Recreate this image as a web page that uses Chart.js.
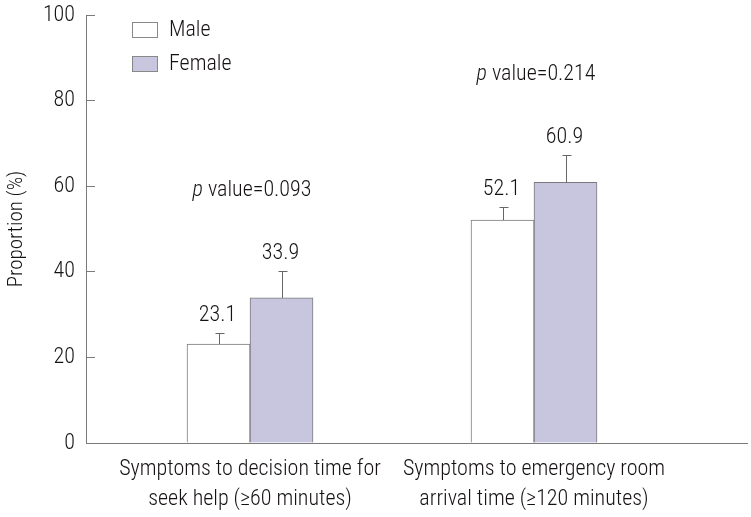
<!DOCTYPE html>
<html>
<head>
<meta charset="utf-8">
<script src="https://cdn.jsdelivr.net/npm/chart.js@4"></script>
<style>
    html, body { margin: 0; padding: 0; background: #fff; }
    #wrap { width: 751px; height: 517px; position: relative; }
</style>
</head>
<body>
<div id="wrap"><canvas id="chart"></canvas></div>
<script>
// Values.
const categories = [
    ['Symptoms to decision time for', 'seek help (\u226560 minutes)'],
    ['Symptoms to emergency room', 'arrival time (\u2265120 minutes)'],
];
const seriesNames = ['Male', 'Female'];
const maleValues = [23.1, 52.1];
const femaleValues = [33.9, 60.9];
const maleErrors = [2.5, 3.0];
const femaleErrors = [6.3, 6.3];
const pValues = ['0.093', '0.214'];
const yTicks = [0, 20, 40, 60, 80, 100];

const FONT = '"Roboto Condensed", "DejaVu Sans Condensed", sans-serif';
const WEIGHT = 300;
const TEXT = '#161213';
const LINE = '#7a7a7a';
const FEMALE_FILL = '#c8c6df';

const toPoints = vals => vals.map((v, i) => ({ x: i, y: v }));
const font = (size, style) => (style ? style + ' ' : '') + WEIGHT + ' ' + size + 'px ' + FONT;

// Error bar whiskers + value labels above them.
const errorBars = {
    id: 'errorBars',
    afterDatasetsDraw(chart) {
        const { ctx, scales: { y } } = chart;
        ctx.save();
        chart.data.datasets.forEach((ds, di) => {
            chart.getDatasetMeta(di).data.forEach((bar, i) => {
                const v = ds.data[i].y;
                const top = y.getPixelForValue(v + ds.errors[i]);
                const x = Math.round(bar.x) + 0.5;
                const capY = Math.round(top) + 0.5;
                ctx.strokeStyle = '#666';
                ctx.lineWidth = 1;
                ctx.beginPath();
                ctx.moveTo(x, bar.y);
                ctx.lineTo(x, capY);
                ctx.moveTo(x - 4, capY);
                ctx.lineTo(x + 5, capY);
                ctx.stroke();
                ctx.fillStyle = TEXT;
                ctx.font = font(22);
                ctx.textAlign = 'center';
                ctx.textBaseline = 'alphabetic';
                ctx.fillText(v.toFixed(1), bar.x - 1, top - 12);
            });
        });
        ctx.restore();
    },
};

// "p value=..." above each group, a fixed step above the tallest whisker.
const pLabels = {
    id: 'pLabels',
    afterDatasetsDraw(chart) {
        const { ctx, scales: { x, y } } = chart;
        const sets = chart.data.datasets;
        ctx.save();
        ctx.fillStyle = TEXT;
        ctx.textBaseline = 'alphabetic';
        ctx.textAlign = 'left';
        pValues.forEach((p, i) => {
            const maxTop = Math.max(...sets.map(ds => ds.data[i].y + ds.errors[i]));
            const py = y.getPixelForValue(maxTop) - 75;
            const cx = x.getPixelForValue(i) + 2;
            ctx.font = font(22, 'italic');
            const wp = ctx.measureText('p').width;
            ctx.font = font(22);
            const rest = ' value=' + p;
            const wr = ctx.measureText(rest).width;
            const start = cx - (wp + wr) / 2;
            ctx.font = font(22, 'italic');
            ctx.fillText('p', start, py);
            ctx.font = font(22);
            ctx.fillText(rest, start + wp, py);
        });
        ctx.restore();
    },
};

// Stacked legend inside the plot, top-left.
const boxLegend = {
    id: 'boxLegend',
    afterDraw(chart) {
        const { ctx, chartArea } = chart;
        ctx.save();
        ctx.font = font(22);
        ctx.textBaseline = 'middle';
        ctx.textAlign = 'left';
        chart.data.datasets.forEach((ds, i) => {
            const bx = chartArea.left + 46.5;
            const by = chartArea.top + 7.5 + i * 34;
            ctx.fillStyle = ds.backgroundColor;
            ctx.fillRect(bx, by, 25, 15);
            ctx.strokeStyle = '#888';
            ctx.lineWidth = 1;
            ctx.strokeRect(bx, by, 25, 15);
            ctx.fillStyle = TEXT;
            ctx.fillText(ds.label, chartArea.left + 83, by + 8);
        });
        ctx.restore();
    },
};

new Chart(document.getElementById('chart'), {
    type: 'bar',
    data: {
        datasets: [
            {
                label: seriesNames[0],
                data: toPoints(maleValues),
                errors: maleErrors,
                backgroundColor: '#ffffff',
                borderColor: LINE,
                borderWidth: 1,
            },
            {
                label: seriesNames[1],
                data: toPoints(femaleValues),
                errors: femaleErrors,
                backgroundColor: FEMALE_FILL,
                borderColor: LINE,
                borderWidth: 1,
            },
        ],
    },
    options: {
        responsive: true,
        maintainAspectRatio: false,
        animation: false,
        barThickness: 63,
        layout: { padding: { top: 15, right: 4, left: 0, bottom: 0 } },
        plugins: {
            legend: { display: false },
            tooltip: { enabled: false },
        },
        scales: {
            x: {
                type: 'linear',
                offset: false,
                min: -0.5775,
                max: 1.75,
                afterBuildTicks: s => { s.ticks = categories.map((c, i) => ({ value: i })); },
                afterFit: s => { s.height = 74; s.paddingLeft = 0; s.paddingRight = 0; },
                ticks: {
                    autoSkip: false,
                    maxRotation: 0,
                    padding: 12,
                    color: TEXT,
                    font: { family: FONT, size: 22, weight: WEIGHT, lineHeight: 1.34 },
                    callback: v => categories[v],
                },
                grid: { drawOnChartArea: false, drawTicks: false },
                border: { color: LINE, width: 1 },
            },
            y: {
                min: 0,
                max: 100,
                afterBuildTicks: s => { s.ticks = yTicks.map(v => ({ value: v })); },
                afterFit: s => { s.width = 86; s.paddingTop = 0; s.paddingBottom = 0; },
                ticks: {
                    padding: 20,
                    color: TEXT,
                    font: { family: FONT, size: 22, weight: WEIGHT },
                },
                grid: { drawOnChartArea: false, drawTicks: true, tickLength: -9, color: LINE },
                border: { color: LINE, width: 1 },
                title: {
                    display: true,
                    text: 'Proportion (%)',
                    color: TEXT,
                    font: { family: FONT, size: 21, weight: WEIGHT },
                    padding: { top: 4, bottom: 0 },
                },
            },
        },
    },
    plugins: [errorBars, pLabels, boxLegend],
});
</script>
</body>
</html>
